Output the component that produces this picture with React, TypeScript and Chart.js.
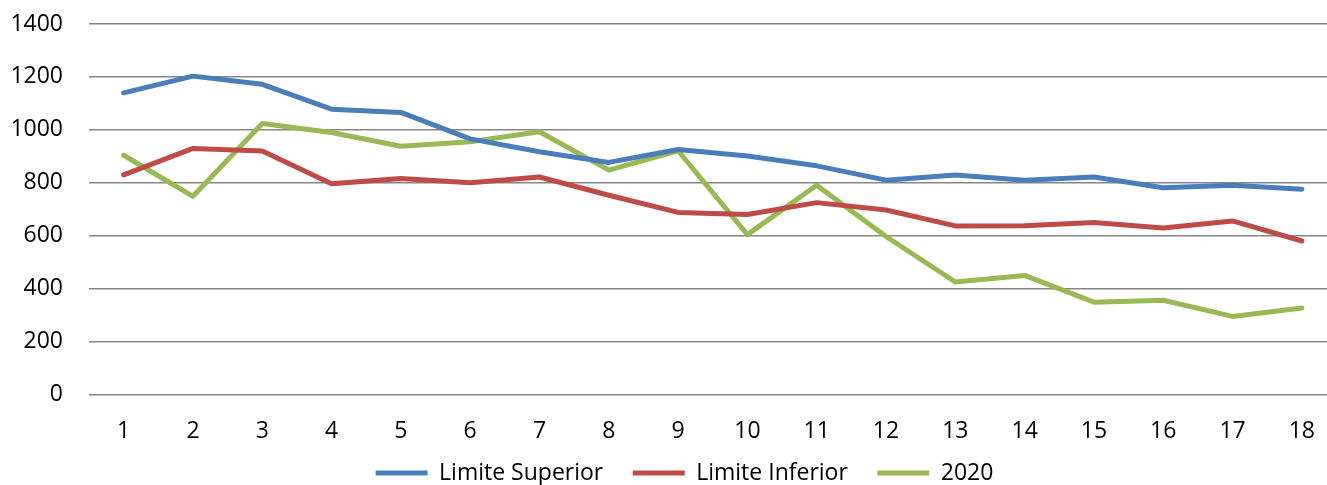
import React, { useEffect, useRef } from "react";
import { Chart, registerables } from "chart.js";

Chart.register(...registerables);

const categories = ["1", "2", "3", "4", "5", "6", "7", "8", "9", "10", "11", "12", "13", "14", "15", "16", "17", "18"];
const limiteSuperior = [1140, 1203, 1172, 1078, 1066, 966, 917, 877, 926, 901, 864, 810, 829, 810, 822, 781, 791, 776];
const limiteInferior = [830, 930, 920, 796, 816, 800, 822, 753, 688, 680, 725, 697, 637, 638, 650, 629, 656, 580];
const serie2020 = [904, 749, 1024, 990, 938, 955, 993, 848, 921, 604, 791, 597, 425, 450, 349, 356, 295, 327];
const seriesNames = ["Limite Superior", "Limite Inferior", "2020"];
const seriesColors = ["#4A7EBB", "#BE4B48", "#98B954"];

const FONT = "'Open Sans', sans-serif";

const legendShift = {
  id: "legendShift",
  afterLayout(chart: any) {
    if (chart.legend) chart.legend.left += 22;
  },
};

export default function App() {
  const ref = useRef<HTMLCanvasElement | null>(null);

  useEffect(() => {
    document.body.style.margin = "0";
    document.body.style.overflow = "hidden";
    if (!ref.current) return;
    const values = [limiteSuperior, limiteInferior, serie2020];
    const chart = new Chart(ref.current, {
      type: "line",
      data: {
        labels: categories,
        datasets: values.map((v, i) => ({
          label: seriesNames[i],
          data: v,
          borderColor: seriesColors[i],
          backgroundColor: seriesColors[i],
          borderWidth: 5,
          borderJoinStyle: "round",
          borderCapStyle: "round",
          pointRadius: 0,
          pointHoverRadius: 0,
          tension: 0,
          fill: false,
        })),
      },
      plugins: [legendShift],
      options: {
        responsive: false,
        animation: false,
        layout: { padding: { top: 24, left: 9, right: 0, bottom: -9.5 } },
        plugins: {
          tooltip: { enabled: false },
          legend: {
            position: "bottom",
            labels: {
              usePointStyle: true,
              pointStyle: "line",
              pointStyleWidth: 52,
              boxHeight: 10,
              padding: 17.5,
              color: "#000",
              font: { family: FONT, size: 23 },
              generateLabels: (chart: any) => {
                const items = Chart.defaults.plugins.legend.labels.generateLabels(chart);
                return items.map((it: any, i: number) => ({
                  ...it,
                  text: i < items.length - 1 ? it.text + "  " : it.text,
                }));
              },
            },
          },
        },
        scales: {
          x: {
            offset: true,
            afterFit: (scale: any) => {
              scale.height = 49.5;
            },
            grid: { display: false, drawTicks: false },
            border: { display: false },
            ticks: {
              color: "#000",
              font: { family: FONT, size: 23 },
              padding: 23,
              autoSkip: false,
              maxRotation: 0,
            },
          },
          y: {
            min: 0,
            max: 1400,
            afterFit: (scale: any) => {
              scale.width = 80;
              scale.paddingTop = 0;
              scale.paddingBottom = 0;
            },
            grid: { color: "#868686", lineWidth: 1.5, drawTicks: false },
            border: { display: false },
            ticks: {
              stepSize: 200,
              color: "#000",
              font: { family: FONT, size: 23 },
              padding: 26,
              callback: (v: any) => String(v),
            },
          },
        },
      },
    });
    return () => chart.destroy();
  }, []);

  return (
    <div style={{ width: 1338, height: 485 }}>
      <canvas ref={ref} width={1338} height={485} />
    </div>
  );
}
